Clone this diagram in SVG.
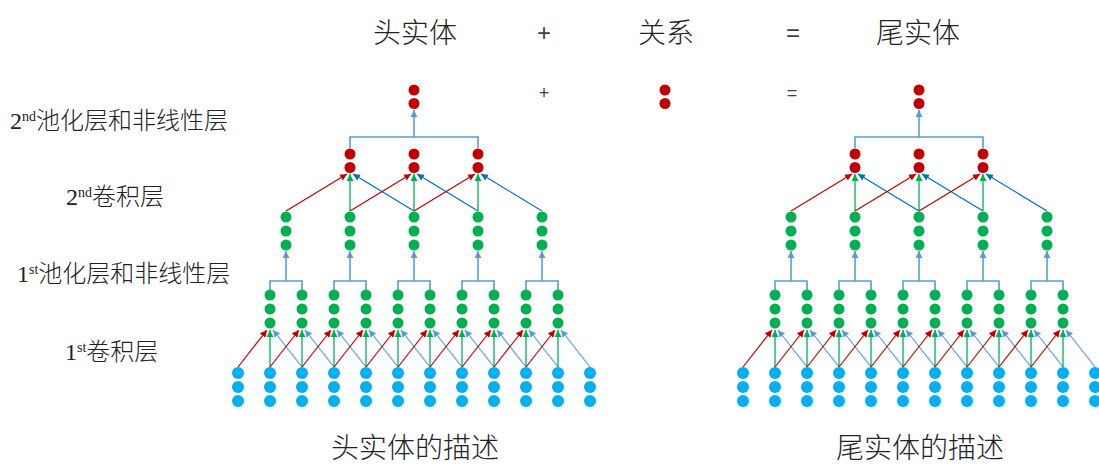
<svg xmlns="http://www.w3.org/2000/svg" xmlns:xlink="http://www.w3.org/1999/xlink" width="1099" height="464" viewBox="0 0 1099 464">
  <style>
    .txt { font-family: "Liberation Serif", "Noto Sans CJK SC", serif; fill: #222222; font-weight: 300; }
    .title { font-size: 28px; text-anchor: middle; }
    .op { font-family: "Liberation Sans", sans-serif; fill: #404040; text-anchor: middle; }
    .lbl { font-size: 24px; }
    .sup { font-size: 14px; }
    .r { fill: #C00000; }
    .g { fill: #00B050; }
    .b { fill: #00B0F0; }
    .cr { stroke: #C00000; stroke-width: 1.2; marker-end: url(#ah-red); }
    .cg { stroke: #00B050; stroke-width: 1.3; marker-end: url(#ah-green); }
    .cb { stroke: #5B9BD5; stroke-width: 1.2; marker-end: url(#ah-lblue); }
    .cd { stroke: #0070C0; stroke-width: 1.2; marker-end: url(#ah-dblue); }
    .br { stroke: #5B9BD5; stroke-width: 1.6; fill: none; }
    .up { stroke: #5B9BD5; stroke-width: 1.6; marker-end: url(#ah-lblue); }
  </style>
  <defs>
    <marker id="ah-red" markerUnits="userSpaceOnUse" markerWidth="8" markerHeight="8" refX="7" refY="3.5" orient="auto"><path d="M0,0 L7,3.5 L0,7 z" fill="#C00000"/></marker>
    <marker id="ah-green" markerUnits="userSpaceOnUse" markerWidth="8" markerHeight="8" refX="7" refY="3.5" orient="auto"><path d="M0,0 L7,3.5 L0,7 z" fill="#00B050"/></marker>
    <marker id="ah-lblue" markerUnits="userSpaceOnUse" markerWidth="8" markerHeight="8" refX="7" refY="3.5" orient="auto"><path d="M0,0 L7,3.5 L0,7 z" fill="#5B9BD5"/></marker>
    <marker id="ah-dblue" markerUnits="userSpaceOnUse" markerWidth="8" markerHeight="8" refX="7" refY="3.5" orient="auto"><path d="M0,0 L7,3.5 L0,7 z" fill="#0070C0"/></marker>
    <g id="col-blue"><circle class="b" cx="0" cy="0" r="6"/><circle class="b" cx="0" cy="14" r="6"/><circle class="b" cx="0" cy="28" r="6"/></g>
    <g id="col-green"><circle class="g" cx="0" cy="0" r="5.5"/><circle class="g" cx="0" cy="14" r="5.5"/><circle class="g" cx="0" cy="28" r="5.5"/></g>
    <g id="col-red"><circle class="r" cx="0" cy="0" r="5.5"/><circle class="r" cx="0" cy="13.5" r="5.5"/></g>
  </defs>

  <!-- headings and equation -->
  <g id="headings">
    <text class="txt title" x="415" y="43">头实体</text>
    <text class="op" x="544" y="41" font-size="24">+</text>
    <text class="txt title" x="666" y="43">关系</text>
    <text class="op" x="793" y="41" font-size="24">=</text>
    <text class="txt title" x="918" y="43">尾实体</text>
    <text class="op" x="544" y="99" font-size="18">+</text>
    <text class="op" x="792" y="99" font-size="18">=</text>
    <text class="txt title" x="415" y="458">头实体的描述</text>
    <text class="txt title" x="920" y="458">尾实体的描述</text>
  </g>

  <!-- layer labels -->
  <g id="layer-labels" class="txt lbl">
    <text x="10" y="129">2<tspan class="sup" dy="-8">nd</tspan><tspan dy="8">池化层和非线性层</tspan></text>
    <text x="66" y="205">2<tspan class="sup" dy="-8">nd</tspan><tspan dy="8">卷积层</tspan></text>
    <text x="17" y="282">1<tspan class="sup" dy="-8">st</tspan><tspan dy="8">池化层和非线性层</tspan></text>
    <text x="65" y="360">1<tspan class="sup" dy="-8">st</tspan><tspan dy="8">卷积层</tspan></text>
  </g>

  <!-- relation vector -->
  <g id="relation"><use xlink:href="#col-red" x="665" y="90"/></g>

  <!-- head entity network -->
  <g id="head-net">
    <g id="head-connectors">
      <!-- 1st convolution -->
      <line class="cr" x1="238" y1="367" x2="267" y2="330"/><line class="cg" x1="270" y1="367" x2="270" y2="330"/><line class="cb" x1="302" y1="367" x2="273" y2="330"/>
      <line class="cr" x1="270" y1="367" x2="299" y2="330"/><line class="cg" x1="302" y1="367" x2="302" y2="330"/><line class="cb" x1="334" y1="367" x2="305" y2="330"/>
      <line class="cr" x1="302" y1="367" x2="331" y2="330"/><line class="cg" x1="334" y1="367" x2="334" y2="330"/><line class="cb" x1="366" y1="367" x2="337" y2="330"/>
      <line class="cr" x1="334" y1="367" x2="363" y2="330"/><line class="cg" x1="366" y1="367" x2="366" y2="330"/><line class="cb" x1="398" y1="367" x2="369" y2="330"/>
      <line class="cr" x1="366" y1="367" x2="395" y2="330"/><line class="cg" x1="398" y1="367" x2="398" y2="330"/><line class="cb" x1="430" y1="367" x2="401" y2="330"/>
      <line class="cr" x1="398" y1="367" x2="427" y2="330"/><line class="cg" x1="430" y1="367" x2="430" y2="330"/><line class="cb" x1="462" y1="367" x2="433" y2="330"/>
      <line class="cr" x1="430" y1="367" x2="459" y2="330"/><line class="cg" x1="462" y1="367" x2="462" y2="330"/><line class="cb" x1="494" y1="367" x2="465" y2="330"/>
      <line class="cr" x1="462" y1="367" x2="491" y2="330"/><line class="cg" x1="494" y1="367" x2="494" y2="330"/><line class="cb" x1="526" y1="367" x2="497" y2="330"/>
      <line class="cr" x1="494" y1="367" x2="523" y2="330"/><line class="cg" x1="526" y1="367" x2="526" y2="330"/><line class="cb" x1="558" y1="367" x2="529" y2="330"/>
      <line class="cr" x1="526" y1="367" x2="555" y2="330"/><line class="cg" x1="558" y1="367" x2="558" y2="330"/><line class="cb" x1="590" y1="367" x2="561" y2="330"/>
      <!-- 1st pooling -->
      <path class="br" d="M270 290V281H302V290M334 290V281H366V290M398 290V281H430V290M462 290V281H494V290M526 290V281H558V290"/>
      <line class="up" x1="286" y1="281" x2="286" y2="251"/><line class="up" x1="350" y1="281" x2="350" y2="251"/><line class="up" x1="414" y1="281" x2="414" y2="251"/><line class="up" x1="478" y1="281" x2="478" y2="251"/><line class="up" x1="542" y1="281" x2="542" y2="251"/>
      <!-- 2nd convolution -->
      <line class="cr" x1="286" y1="211" x2="347" y2="174"/><line class="cg" x1="350" y1="211" x2="350" y2="174"/><line class="cd" x1="414" y1="211" x2="353" y2="174"/>
      <line class="cr" x1="350" y1="211" x2="411" y2="174"/><line class="cg" x1="414" y1="211" x2="414" y2="174"/><line class="cd" x1="478" y1="211" x2="417" y2="174"/>
      <line class="cr" x1="414" y1="211" x2="475" y2="174"/><line class="cg" x1="478" y1="211" x2="478" y2="174"/><line class="cd" x1="542" y1="211" x2="481" y2="174"/>
      <!-- 2nd pooling -->
      <path class="br" d="M350 148V137H478V148"/>
      <line class="up" x1="414" y1="137" x2="414" y2="110"/>
    </g>
    <g id="head-input">
      <use xlink:href="#col-blue" x="238" y="373"/><use xlink:href="#col-blue" x="270" y="373"/><use xlink:href="#col-blue" x="302" y="373"/><use xlink:href="#col-blue" x="334" y="373"/>
      <use xlink:href="#col-blue" x="366" y="373"/><use xlink:href="#col-blue" x="398" y="373"/><use xlink:href="#col-blue" x="430" y="373"/><use xlink:href="#col-blue" x="462" y="373"/>
      <use xlink:href="#col-blue" x="494" y="373"/><use xlink:href="#col-blue" x="526" y="373"/><use xlink:href="#col-blue" x="558" y="373"/><use xlink:href="#col-blue" x="590" y="373"/>
    </g>
    <g id="head-conv1">
      <use xlink:href="#col-green" x="270" y="295"/><use xlink:href="#col-green" x="302" y="295"/><use xlink:href="#col-green" x="334" y="295"/><use xlink:href="#col-green" x="366" y="295"/>
      <use xlink:href="#col-green" x="398" y="295"/><use xlink:href="#col-green" x="430" y="295"/><use xlink:href="#col-green" x="462" y="295"/><use xlink:href="#col-green" x="494" y="295"/>
      <use xlink:href="#col-green" x="526" y="295"/><use xlink:href="#col-green" x="558" y="295"/>
    </g>
    <g id="head-pool1">
      <use xlink:href="#col-green" x="286" y="217"/><use xlink:href="#col-green" x="350" y="217"/><use xlink:href="#col-green" x="414" y="217"/><use xlink:href="#col-green" x="478" y="217"/><use xlink:href="#col-green" x="542" y="217"/>
    </g>
    <g id="head-conv2">
      <use xlink:href="#col-red" x="350" y="154"/><use xlink:href="#col-red" x="414" y="154"/><use xlink:href="#col-red" x="478" y="154"/>
    </g>
    <g id="head-out"><use xlink:href="#col-red" x="414" y="90"/></g>
  </g>

  <!-- tail entity network: same structure shifted right -->
  <g id="tail-net" transform="translate(505,0)">
    <g id="tail-connectors">
      <line class="cr" x1="238" y1="367" x2="267" y2="330"/><line class="cg" x1="270" y1="367" x2="270" y2="330"/><line class="cb" x1="302" y1="367" x2="273" y2="330"/>
      <line class="cr" x1="270" y1="367" x2="299" y2="330"/><line class="cg" x1="302" y1="367" x2="302" y2="330"/><line class="cb" x1="334" y1="367" x2="305" y2="330"/>
      <line class="cr" x1="302" y1="367" x2="331" y2="330"/><line class="cg" x1="334" y1="367" x2="334" y2="330"/><line class="cb" x1="366" y1="367" x2="337" y2="330"/>
      <line class="cr" x1="334" y1="367" x2="363" y2="330"/><line class="cg" x1="366" y1="367" x2="366" y2="330"/><line class="cb" x1="398" y1="367" x2="369" y2="330"/>
      <line class="cr" x1="366" y1="367" x2="395" y2="330"/><line class="cg" x1="398" y1="367" x2="398" y2="330"/><line class="cb" x1="430" y1="367" x2="401" y2="330"/>
      <line class="cr" x1="398" y1="367" x2="427" y2="330"/><line class="cg" x1="430" y1="367" x2="430" y2="330"/><line class="cb" x1="462" y1="367" x2="433" y2="330"/>
      <line class="cr" x1="430" y1="367" x2="459" y2="330"/><line class="cg" x1="462" y1="367" x2="462" y2="330"/><line class="cb" x1="494" y1="367" x2="465" y2="330"/>
      <line class="cr" x1="462" y1="367" x2="491" y2="330"/><line class="cg" x1="494" y1="367" x2="494" y2="330"/><line class="cb" x1="526" y1="367" x2="497" y2="330"/>
      <line class="cr" x1="494" y1="367" x2="523" y2="330"/><line class="cg" x1="526" y1="367" x2="526" y2="330"/><line class="cb" x1="558" y1="367" x2="529" y2="330"/>
      <line class="cr" x1="526" y1="367" x2="555" y2="330"/><line class="cg" x1="558" y1="367" x2="558" y2="330"/><line class="cb" x1="590" y1="367" x2="561" y2="330"/>
      <path class="br" d="M270 290V281H302V290M334 290V281H366V290M398 290V281H430V290M462 290V281H494V290M526 290V281H558V290"/>
      <line class="up" x1="286" y1="281" x2="286" y2="251"/><line class="up" x1="350" y1="281" x2="350" y2="251"/><line class="up" x1="414" y1="281" x2="414" y2="251"/><line class="up" x1="478" y1="281" x2="478" y2="251"/><line class="up" x1="542" y1="281" x2="542" y2="251"/>
      <line class="cr" x1="286" y1="211" x2="347" y2="174"/><line class="cg" x1="350" y1="211" x2="350" y2="174"/><line class="cd" x1="414" y1="211" x2="353" y2="174"/>
      <line class="cr" x1="350" y1="211" x2="411" y2="174"/><line class="cg" x1="414" y1="211" x2="414" y2="174"/><line class="cd" x1="478" y1="211" x2="417" y2="174"/>
      <line class="cr" x1="414" y1="211" x2="475" y2="174"/><line class="cg" x1="478" y1="211" x2="478" y2="174"/><line class="cd" x1="542" y1="211" x2="481" y2="174"/>
      <path class="br" d="M350 148V137H478V148"/>
      <line class="up" x1="414" y1="137" x2="414" y2="110"/>
    </g>
    <g id="tail-input">
      <use xlink:href="#col-blue" x="238" y="373"/><use xlink:href="#col-blue" x="270" y="373"/><use xlink:href="#col-blue" x="302" y="373"/><use xlink:href="#col-blue" x="334" y="373"/>
      <use xlink:href="#col-blue" x="366" y="373"/><use xlink:href="#col-blue" x="398" y="373"/><use xlink:href="#col-blue" x="430" y="373"/><use xlink:href="#col-blue" x="462" y="373"/>
      <use xlink:href="#col-blue" x="494" y="373"/><use xlink:href="#col-blue" x="526" y="373"/><use xlink:href="#col-blue" x="558" y="373"/><use xlink:href="#col-blue" x="590" y="373"/>
    </g>
    <g id="tail-conv1">
      <use xlink:href="#col-green" x="270" y="295"/><use xlink:href="#col-green" x="302" y="295"/><use xlink:href="#col-green" x="334" y="295"/><use xlink:href="#col-green" x="366" y="295"/>
      <use xlink:href="#col-green" x="398" y="295"/><use xlink:href="#col-green" x="430" y="295"/><use xlink:href="#col-green" x="462" y="295"/><use xlink:href="#col-green" x="494" y="295"/>
      <use xlink:href="#col-green" x="526" y="295"/><use xlink:href="#col-green" x="558" y="295"/>
    </g>
    <g id="tail-pool1">
      <use xlink:href="#col-green" x="286" y="217"/><use xlink:href="#col-green" x="350" y="217"/><use xlink:href="#col-green" x="414" y="217"/><use xlink:href="#col-green" x="478" y="217"/><use xlink:href="#col-green" x="542" y="217"/>
    </g>
    <g id="tail-conv2">
      <use xlink:href="#col-red" x="350" y="154"/><use xlink:href="#col-red" x="414" y="154"/><use xlink:href="#col-red" x="478" y="154"/>
    </g>
    <g id="tail-out"><use xlink:href="#col-red" x="414" y="90"/></g>
  </g>
</svg>
